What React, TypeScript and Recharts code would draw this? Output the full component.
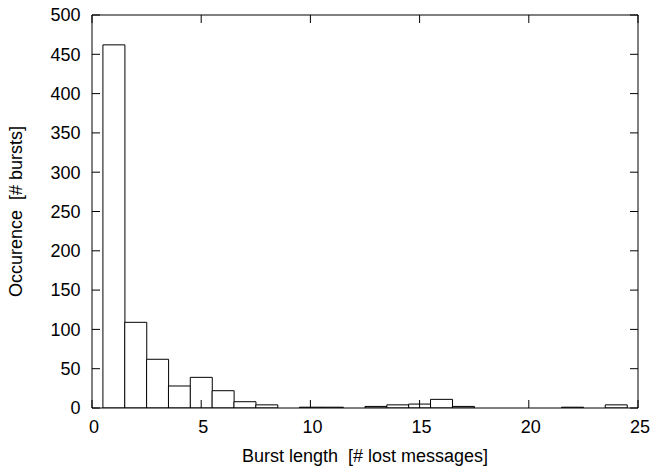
import React from 'react';
import { ComposedChart, Bar, XAxis, YAxis } from 'recharts';

const burstLengths = [1, 2, 3, 4, 5, 6, 7, 8, 9, 10, 11, 12, 13, 14, 15, 16, 17, 18, 19, 20, 21, 22, 23, 24];
const occurrences = [462, 109, 62, 28, 39, 22, 8, 4, 0, 1, 1, 0, 2, 4, 5, 11, 2, 0, 0, 0, 0, 1, 0, 4];
const xTicks = [0, 5, 10, 15, 20, 25];
const yTicks = [0, 50, 100, 150, 200, 250, 300, 350, 400, 450, 500];

const data = burstLengths.map((x, i) => ({ x, count: occurrences[i] }));

const FONT = '"Liberation Sans", Arial, Helvetica, sans-serif';
const tickStyle = { fontSize: 18, fontFamily: FONT, fill: '#000' };
const lineStyle = { stroke: '#000', strokeWidth: 1 };
const blank = () => '';

export default function App() {
  return (
    <div style={{ position: 'absolute', left: 0, top: 0, width: 652, height: 468, background: '#fff' }}>
      <ComposedChart
        width={652}
        height={468}
        data={data}
        margin={{ top: 14, right: 13, left: 0, bottom: 0 }}
        barCategoryGap={0}
        barGap={0}
      >
        <XAxis
          xAxisId="bottom"
          dataKey="x"
          type="number"
          domain={[0, 25]}
          ticks={xTicks}
          interval={0}
          allowDataOverflow
          height={60}
          tickSize={-8}
          tickMargin={20}
          tickLine={lineStyle}
          axisLine={lineStyle}
          tick={{ ...tickStyle, dx: 2 }}
          label={{
            value: 'Burst length\u00A0 [# lost messages]',
            position: 'insideBottom',
            offset: 6,
            fontSize: 18,
            fontFamily: FONT,
            fill: '#000',
          }}
        />
        <XAxis
          xAxisId="top"
          orientation="top"
          dataKey="x"
          type="number"
          domain={[0, 25]}
          ticks={xTicks}
          interval={0}
          allowDataOverflow
          height={1}
          tickSize={-8}
          tickLine={lineStyle}
          axisLine={lineStyle}
          tick={tickStyle}
          tickFormatter={blank}
        />
        <YAxis
          yAxisId="left"
          type="number"
          domain={[0, 500]}
          ticks={yTicks}
          interval={0}
          allowDataOverflow
          width={92}
          tickSize={-8}
          tickMargin={19.5}
          tickLine={lineStyle}
          axisLine={lineStyle}
          tick={tickStyle}
          label={{
            value: 'Occurence\u00A0 [# bursts]',
            angle: -90,
            position: 'insideLeft',
            offset: 16,
            fontSize: 18,
            fontFamily: FONT,
            fill: '#000',
            style: { textAnchor: 'middle' },
          }}
        />
        <YAxis
          yAxisId="right"
          orientation="right"
          type="number"
          domain={[0, 500]}
          ticks={yTicks}
          interval={0}
          allowDataOverflow
          width={1}
          tickSize={-8}
          tickLine={lineStyle}
          axisLine={lineStyle}
          tick={tickStyle}
          tickFormatter={blank}
        />
        <Bar
          xAxisId="bottom"
          yAxisId="left"
          dataKey="count"
          fill="#fff"
          stroke="#000"
          strokeWidth={1}
          isAnimationActive={false}
        />
      </ComposedChart>
    </div>
  );
}
